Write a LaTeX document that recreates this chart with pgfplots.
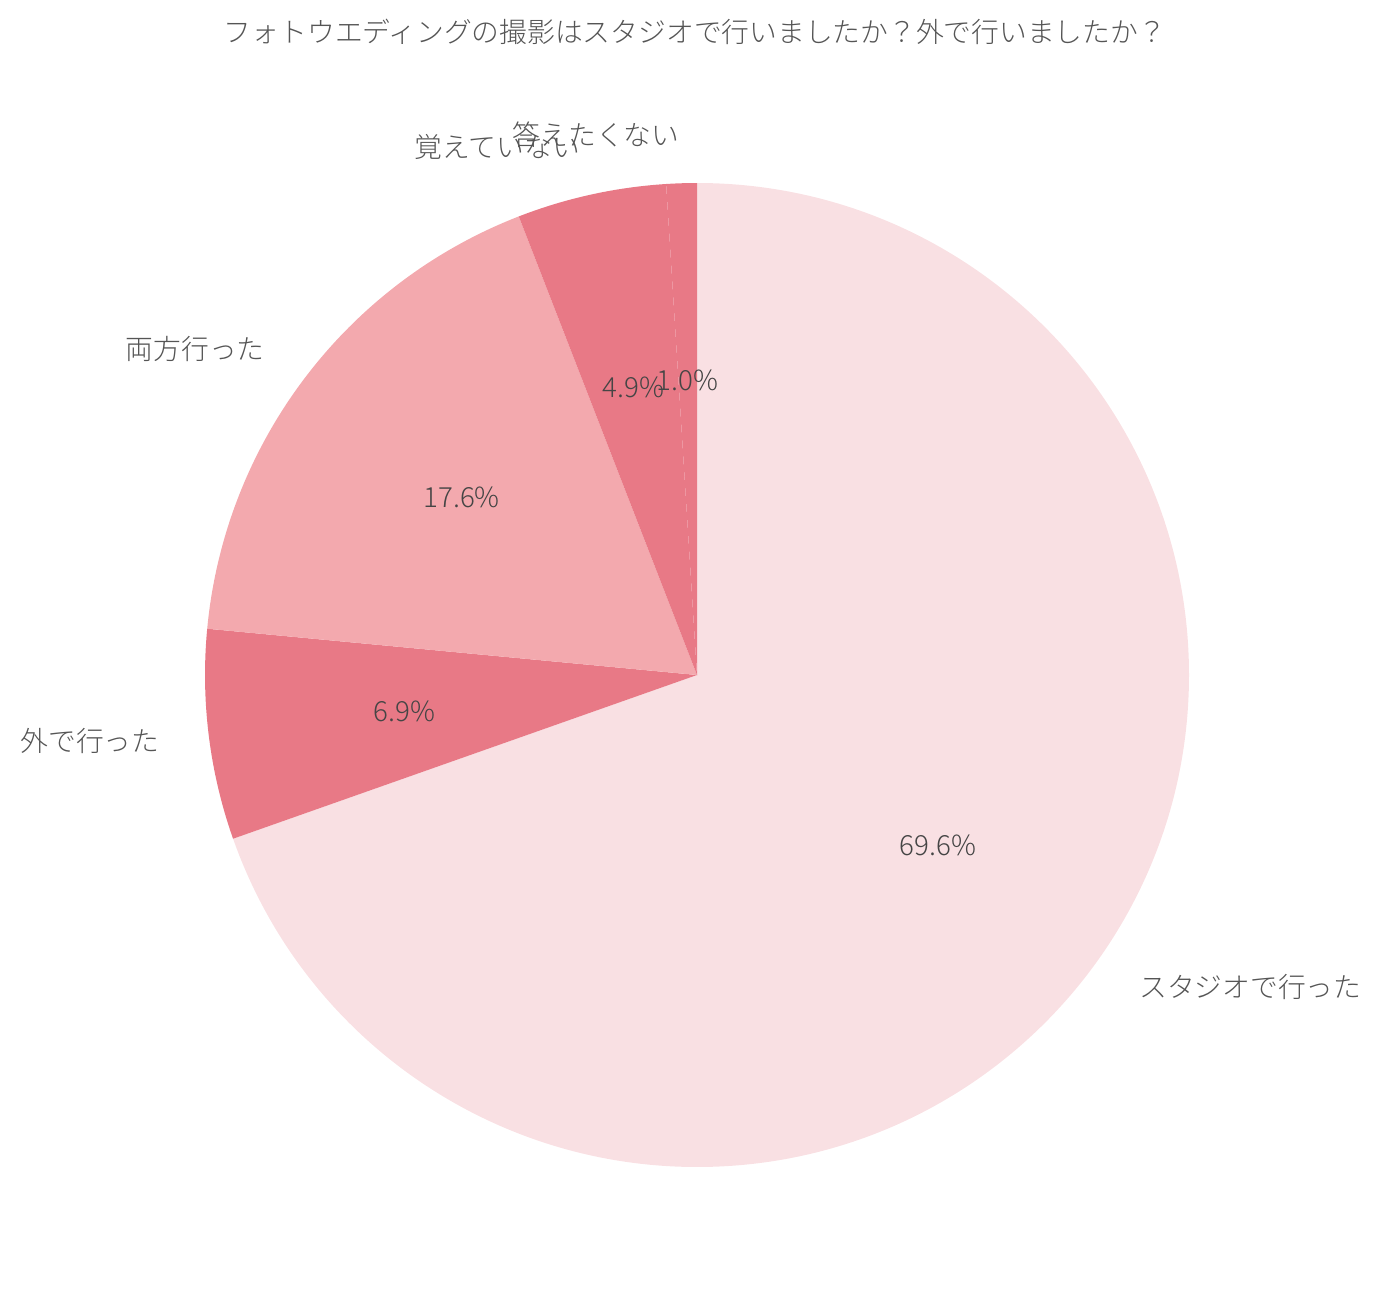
\documentclass[border=0pt]{standalone}
\usepackage{pgfplots}
\pgfplotsset{compat=1.18}
\usepackage{pgfplotstable}
\usepackage{fontspec}
\setmainfont{Noto Sans CJK JP Light}

\definecolor{cA}{HTML}{F9E0E3}
\definecolor{cB}{HTML}{E87986}
\definecolor{cC}{HTML}{F3A9AE}
\definecolor{txt}{HTML}{555555}
\definecolor{pcttxt}{HTML}{454545}

% share of answers, clockwise from 12 o'clock
\pgfplotstableread{
pct  col name
69.6 cA  スタジオで行った
6.9  cB  外で行った
17.6 cC  両方行った
4.9  cB  覚えていない
1.0  cB  答えたくない
}\piedata

\begin{document}
\fontsize{7.9pt}{9pt}\selectfont
\begin{tikzpicture}
\pgfplotstablegetrowsof{\piedata}
\pgfmathtruncatemacro\N{\pgfplotsretval-1}
\begin{axis}[
    hide axis,
    scale only axis,
    width=13.81cm, height=13.11cm,
    xmin=-697, xmax=684,
    ymin=-636, ymax=675,
    clip=false,
]
\path (rel axis cs:0,0) rectangle (rel axis cs:1,1);
\def\cum{0}
\pgfplotsforeachungrouped \i in {0,...,\N}{
    \pgfplotstablegetelem{\i}{pct}\of\piedata \let\p\pgfplotsretval
    \pgfplotstablegetelem{\i}{col}\of\piedata \let\c\pgfplotsretval
    \pgfplotstablegetelem{\i}{name}\of\piedata \let\n\pgfplotsretval
    \pgfmathsetmacro\aS{90-3.6*\cum}
    \pgfmathsetmacro\aE{90-3.6*(\cum+\p)}
    \pgfmathsetmacro\aM{(\aS+\aE)/2}
    \pgfmathsetmacro\lx{541*cos(\aM)}
    \pgfmathsetmacro\ly{541*sin(\aM)}
    \pgfmathsetmacro\px{295*cos(\aM)}
    \pgfmathsetmacro\py{295*sin(\aM)}
    \pgfmathsetmacro\sx{492*cos(\aS)}
    \pgfmathsetmacro\sy{492*sin(\aS)}
    \ifdim\lx pt>0pt \def\anc{west}\else\def\anc{east}\fi
    \edef\temp{
        \noexpand\fill[\c] (axis cs:0,0) -- (axis cs:\sx,\sy)
            arc[start angle=\aS, end angle=\aE, radius=4.92cm] -- cycle;
        \noexpand\node[anchor=\anc, inner sep=0pt, text=txt]
            at (axis cs:\lx,\ly) {\n};
        \noexpand\node[inner sep=0pt, text=pcttxt]
            at (axis cs:\px,\py) {\p\noexpand\%};
    }
    \temp
    \pgfmathsetmacro\cum{\cum+\p}
}
\node[text=txt, inner sep=0pt] at (axis cs:-2,643)
    {フォトウエディングの撮影はスタジオで行いましたか？外で行いましたか？};
\end{axis}
\end{tikzpicture}
\end{document}
